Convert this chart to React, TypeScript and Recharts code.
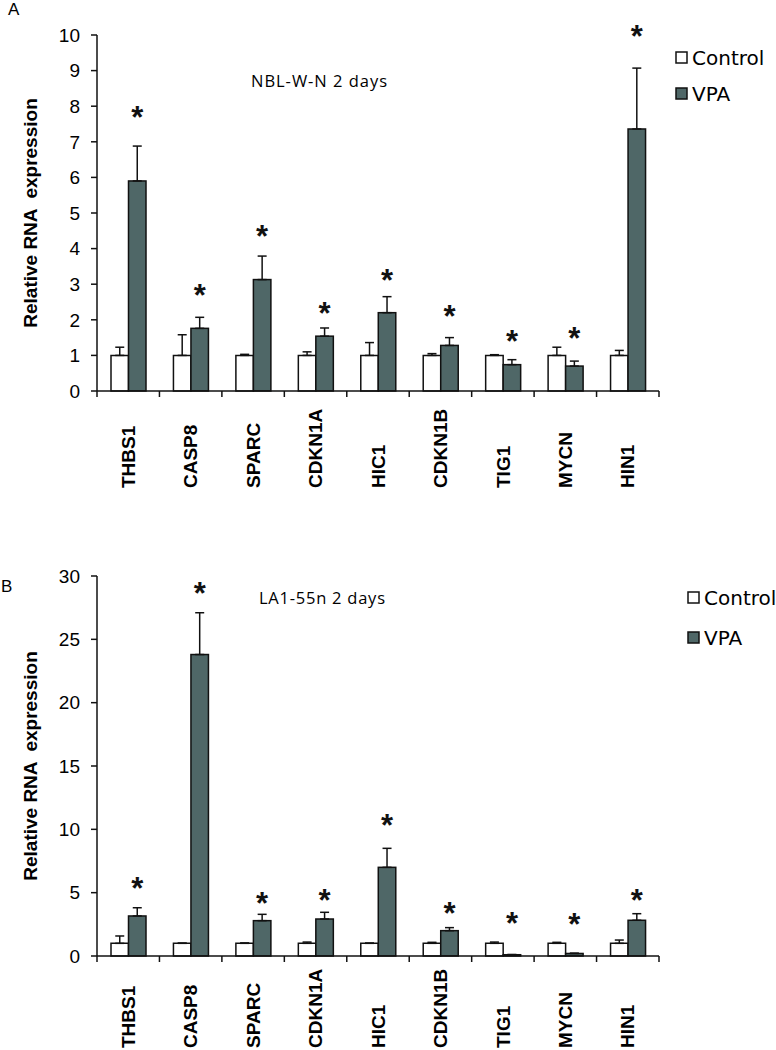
import { BarChart, Bar, XAxis, YAxis, ErrorBar } from 'recharts'

const GENES = ['THBS1', 'CASP8', 'SPARC', 'CDKN1A', 'HIC1', 'CDKN1B', 'TIG1', 'MYCN', 'HIN1']
const SERIES = ['Control', 'VPA']

// panel A — NBL-W-N 2 days
const CONTROL_A = [1, 1, 1, 1, 1, 1, 1, 1, 1]
const CONTROL_ERR_A = [0.23, 0.58, 0.03, 0.1, 0.36, 0.05, 0.02, 0.23, 0.14]
const VPA_A = [5.9, 1.76, 3.13, 1.54, 2.2, 1.28, 0.74, 0.7, 7.36]
const VPA_ERR_A = [0.98, 0.31, 0.66, 0.23, 0.45, 0.22, 0.14, 0.14, 1.71]
const STAR_A = [7.89, 2.89, 4.55, 2.39, 3.31, 2.3, 1.6, 1.69, 10.17]
const TICKS_A = [0, 1, 2, 3, 4, 5, 6, 7, 8, 9, 10]

// panel B — LA1-55n 2 days
const CONTROL_B = [1, 1, 1, 1, 1, 1, 1, 1, 1]
const CONTROL_ERR_B = [0.58, 0.02, 0.03, 0.1, 0.02, 0.08, 0.1, 0.08, 0.26]
const VPA_B = [3.16, 23.8, 2.79, 2.92, 7.0, 2.0, 0.1, 0.2, 2.82]
const VPA_ERR_B = [0.65, 3.3, 0.5, 0.53, 1.5, 0.24, 0.02, 0.02, 0.52]
const STAR_B = [5.87, 29.2, 4.68, 4.95, 10.87, 3.9, 3.16, 3.05, 4.95]
const TICKS_B = [0, 5, 10, 15, 20, 25, 30]

const VPA_FILL = '#4f6767'
const INK = '#111'
const FONT = '"Liberation Sans", Arial, sans-serif'
const PLOT_W = 562
const STAR_SIZE = 31

const rows = (ctl: number[], ctlErr: number[], vpa: number[], vpaErr: number[], star: number[]) =>
  GENES.map((g, i) => ({
    gene: g,
    control: ctl[i],
    controlErr: [0, ctlErr[i]],
    vpa: vpa[i],
    vpaErr: [0, vpaErr[i]],
    star: star[i],
  }))

const dataA = rows(CONTROL_A, CONTROL_ERR_A, VPA_A, VPA_ERR_A, STAR_A)
const dataB = rows(CONTROL_B, CONTROL_ERR_B, VPA_B, VPA_ERR_B, STAR_B)

// VPA bar plus its significance star, placed with the bar's own px/unit
function VpaShape(p: any) {
  const { x, y, width, height, payload } = p
  const base = y + height
  const perUnit = payload.vpa > 0 ? height / payload.vpa : 0
  const sy = base - payload.star * perUnit
  return (
    <g>
      <rect x={x} y={y} width={width} height={height} fill={VPA_FILL} stroke={INK} strokeWidth={1.5} />
      <text
        x={x + width / 2}
        y={sy + STAR_SIZE * 0.57}
        textAnchor="middle"
        fontSize={STAR_SIZE}
        fontWeight="bold"
        fontFamily={FONT}
        fill={INK}
      >
        *
      </text>
    </g>
  )
}

function GeneTick(p: any) {
  const { x, y, payload, gap } = p
  const step = PLOT_W / GENES.length
  const last = payload.value === GENES[GENES.length - 1]
  return (
    <g>
      <line x1={x - step / 2} x2={x - step / 2} y1={y} y2={y + 6} stroke={INK} strokeWidth={1.5} />
      {last && <line x1={x + step / 2} x2={x + step / 2} y1={y} y2={y + 6} stroke={INK} strokeWidth={1.5} />}
      <text
        transform={`translate(${x},${y + gap}) rotate(-90)`}
        textAnchor="start"
        dy="0.35em"
        fontSize={19}
        fontWeight="bold"
        fontFamily={FONT}
        fill="#000"
      >
        {payload.value}
      </text>
    </g>
  )
}

function AxisTitle(p: any) {
  const vb = p.viewBox
  const cy = vb.y + vb.height / 2
  return (
    <text
      transform={`translate(30,${cy}) rotate(-90)`}
      textAnchor="middle"
      dy="0.35em"
      fontSize={19}
      fontWeight="bold"
      fontFamily={FONT}
      fill="#000"
      style={{ whiteSpace: 'pre' }}
    >
      {'Relative RNA  expression'}
    </text>
  )
}

function Panel(props: { data: any[]; ticks: number[]; max: number; height: number; top: number; bottom: number; gap: number }) {
  const { data, ticks, max, height, top, bottom, gap } = props
  return (
    <BarChart
      width={776}
      height={height}
      data={data}
      margin={{ top, right: 117, bottom: 0, left: 0 }}
      barGap={0}
      barSize={17.5}
      style={{ fontFamily: FONT }}
    >
      <XAxis
        dataKey="gene"
        interval={0}
        height={bottom}
        tickLine={false}
        tickSize={0}
        tickMargin={0}
        axisLine={{ stroke: INK, strokeWidth: 1.5 }}
        tick={<GeneTick gap={gap} />}
      />
      <YAxis
        width={97}
        domain={[0, max]}
        ticks={ticks}
        interval={0}
        tickSize={6}
        tickMargin={11}
        tickLine={{ stroke: INK, strokeWidth: 1.5 }}
        axisLine={{ stroke: INK, strokeWidth: 1.5 }}
        tick={{ fontSize: 19, fill: '#000', fontFamily: FONT }}
        label={{ content: <AxisTitle /> }}
      />
      <Bar dataKey="control" name={SERIES[0]} fill="#fff" stroke={INK} strokeWidth={1.5} isAnimationActive={false}>
        <ErrorBar dataKey="controlErr" width={4.5} stroke={INK} strokeWidth={1.5} />
      </Bar>
      <Bar dataKey="vpa" name={SERIES[1]} fill={VPA_FILL} shape={<VpaShape />} isAnimationActive={false}>
        <ErrorBar dataKey="vpaErr" width={4.5} stroke={INK} strokeWidth={1.5} />
      </Bar>
    </BarChart>
  )
}

function LegendItem({ x, y, fill, label }: { x: number; y: number; fill: string; label: string }) {
  return (
    <g>
      <rect x={x} y={y - 13} width={11} height={11} fill={fill} stroke={INK} strokeWidth={1.5} />
      <text x={x + 16} y={y} fontSize={20} fontFamily='"DejaVu Sans", sans-serif' fill="#000">
        {label}
      </text>
    </g>
  )
}

export default function App() {
  return (
    <div style={{ position: 'absolute', left: 0, top: 0, width: 776, height: 1050, background: '#fff' }}>
      <div style={{ position: 'absolute', left: 0, top: 0 }}>
        <Panel data={dataA} ticks={TICKS_A} max={10} height={500} top={35} bottom={109} gap={97} />
      </div>
      <div style={{ position: 'absolute', left: 0, top: 500 }}>
        <Panel data={dataB} ticks={TICKS_B} max={30} height={550} top={76} bottom={94} gap={92} />
      </div>
      <svg
        width={776}
        height={1050}
        style={{ position: 'absolute', left: 0, top: 0, pointerEvents: 'none' }}
      >
        <text x={8} y={15} fontSize={17} fontFamily={FONT} fill="#000">A</text>
        <text x={1} y={592} fontSize={17} fontFamily={FONT} fill="#000">B</text>
        <text x={251} y={87} fontSize={16.5} textLength={136} fontFamily='"Open Sans", sans-serif' fill="#000">
          NBL-W-N 2 days
        </text>
        <text x={259} y={604} fontSize={16.5} textLength={126} fontFamily='"Open Sans", sans-serif' fill="#000">
          LA1-55n 2 days
        </text>
        <LegendItem x={676} y={65} fill="#fff" label={SERIES[0]} />
        <LegendItem x={676} y={101} fill={VPA_FILL} label={SERIES[1]} />
        <LegendItem x={688} y={605} fill="#fff" label={SERIES[0]} />
        <LegendItem x={688} y={645} fill={VPA_FILL} label={SERIES[1]} />
      </svg>
    </div>
  )
}
